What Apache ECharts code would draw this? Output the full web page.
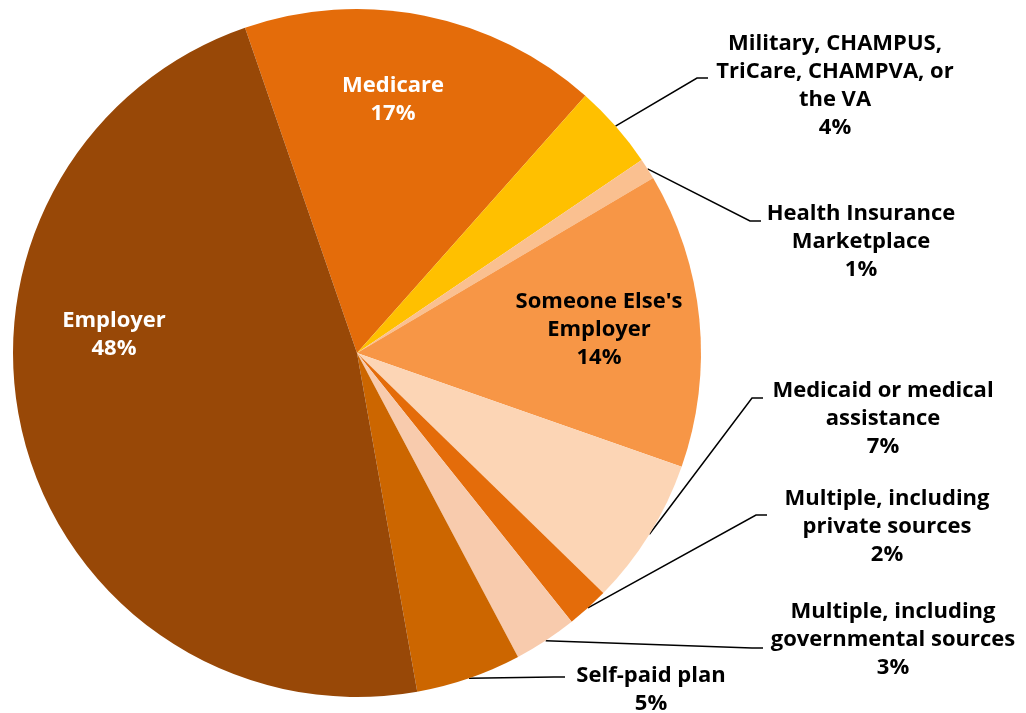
<!DOCTYPE html>
<html>
<head>
<meta charset="utf-8">
<title>Health insurance coverage by source</title>
<script src="https://cdn.jsdelivr.net/npm/echarts@6/dist/echarts.min.js"></script>
<style>
  html, body { margin: 0; padding: 0; background: #ffffff; }
  #chart { width: 1026px; height: 713px; }
</style>
</head>
<body>
<div id="chart"></div>
<script>
// Coverage sources, in clockwise order starting just left of 12 o'clock
const categories = [
  'Medicare',
  'Military, CHAMPUS,\nTriCare, CHAMPVA, or\nthe VA',
  'Health Insurance\nMarketplace',
  "Someone Else's\nEmployer",
  'Medicaid or medical\nassistance',
  'Multiple, including\nprivate sources',
  'Multiple, including\ngovernmental sources',
  'Self-paid plan',
  'Employer'
];
// Share of respondents, percent
const shares = [17, 4, 1, 14, 7, 2, 3, 5, 48];

// Slice fills
const sliceColors = ['#E46C0A', '#FFC000', '#FAC090', '#F79646', '#FCD5B5',
                     '#E46C0A', '#F8CBAD', '#CC6600', '#984807'];
// Label text colours (inside labels on dark slices are white)
const labelColors = ['#ffffff', '#000000', '#000000', '#000000', '#000000',
                     '#000000', '#000000', '#000000', '#ffffff'];
// Which labels sit inside their slice
const insideLabel = [true, false, false, true, false, false, false, false, true];

// Label placement: block centre (x, y) and, for outside labels, the end of the leader line (lx, ly)
const labelSpots = [
  { x: 393, y: 100 },
  { x: 835, y: 86,  lx: 708, ly: 78 },
  { x: 861, y: 242, lx: 761, ly: 221 },
  { x: 599, y: 330 },
  { x: 883, y: 419, lx: 763, ly: 398 },
  { x: 887, y: 527, lx: 767, ly: 515 },
  { x: 893, y: 640, lx: 763, ly: 648 },
  { x: 651, y: 690, lx: 565, ly: 677 },
  { x: 114, y: 335 }
];

const chart = echarts.init(document.getElementById('chart'), null, { renderer: 'canvas' });

function arcMidPoint(i) {
  const lay = chart.getModel().getSeriesByIndex(0).getData().getItemLayout(i);
  const mid = (lay.startAngle + lay.endAngle) / 2;
  return [lay.cx + lay.r * Math.cos(mid), lay.cy + lay.r * Math.sin(mid)];
}

const seriesData = categories.map((name, i) => ({
  name: name,
  value: shares[i],
  itemStyle: { color: sliceColors[i] },
  label: {
    position: insideLabel[i] ? 'inside' : 'outside',
    color: labelColors[i]
  },
  labelLine: { show: !insideLabel[i] }
}));

chart.setOption({
  animation: false,
  backgroundColor: '#ffffff',
  series: [{
    type: 'pie',
    center: [357, 353],
    radius: 344,
    startAngle: 109,
    clockwise: true,
    avoidLabelOverlap: false,
    minShowLabelAngle: 0,
    itemStyle: { borderWidth: 0 },
    emphasis: { disabled: true },
    label: {
      show: true,
      formatter: p => p.name + '\n' + p.value + '%',
      fontFamily: 'Open Sans',
      fontWeight: 'bold',
      fontSize: 22,
      lineHeight: 28,
      align: 'center',
      overflow: 'none'
    },
    labelLine: {
      show: true,
      length: 20,
      length2: 10,
      lineStyle: { color: '#000000', width: 1.5 }
    },
    labelLayout: function (params) {
      const i = params.dataIndex;
      const spot = labelSpots[i];
      const out = { x: spot.x, y: spot.y, align: 'center', verticalAlign: 'middle' };
      if (spot.lx != null) {
        const p0 = (params.labelLinePoints && params.labelLinePoints[0]) || arcMidPoint(i);
        out.labelLinePoints = [p0, [spot.lx - 11, spot.ly], [spot.lx, spot.ly]];
      }
      return out;
    },
    data: seriesData
  }]
});
</script>
</body>
</html>
